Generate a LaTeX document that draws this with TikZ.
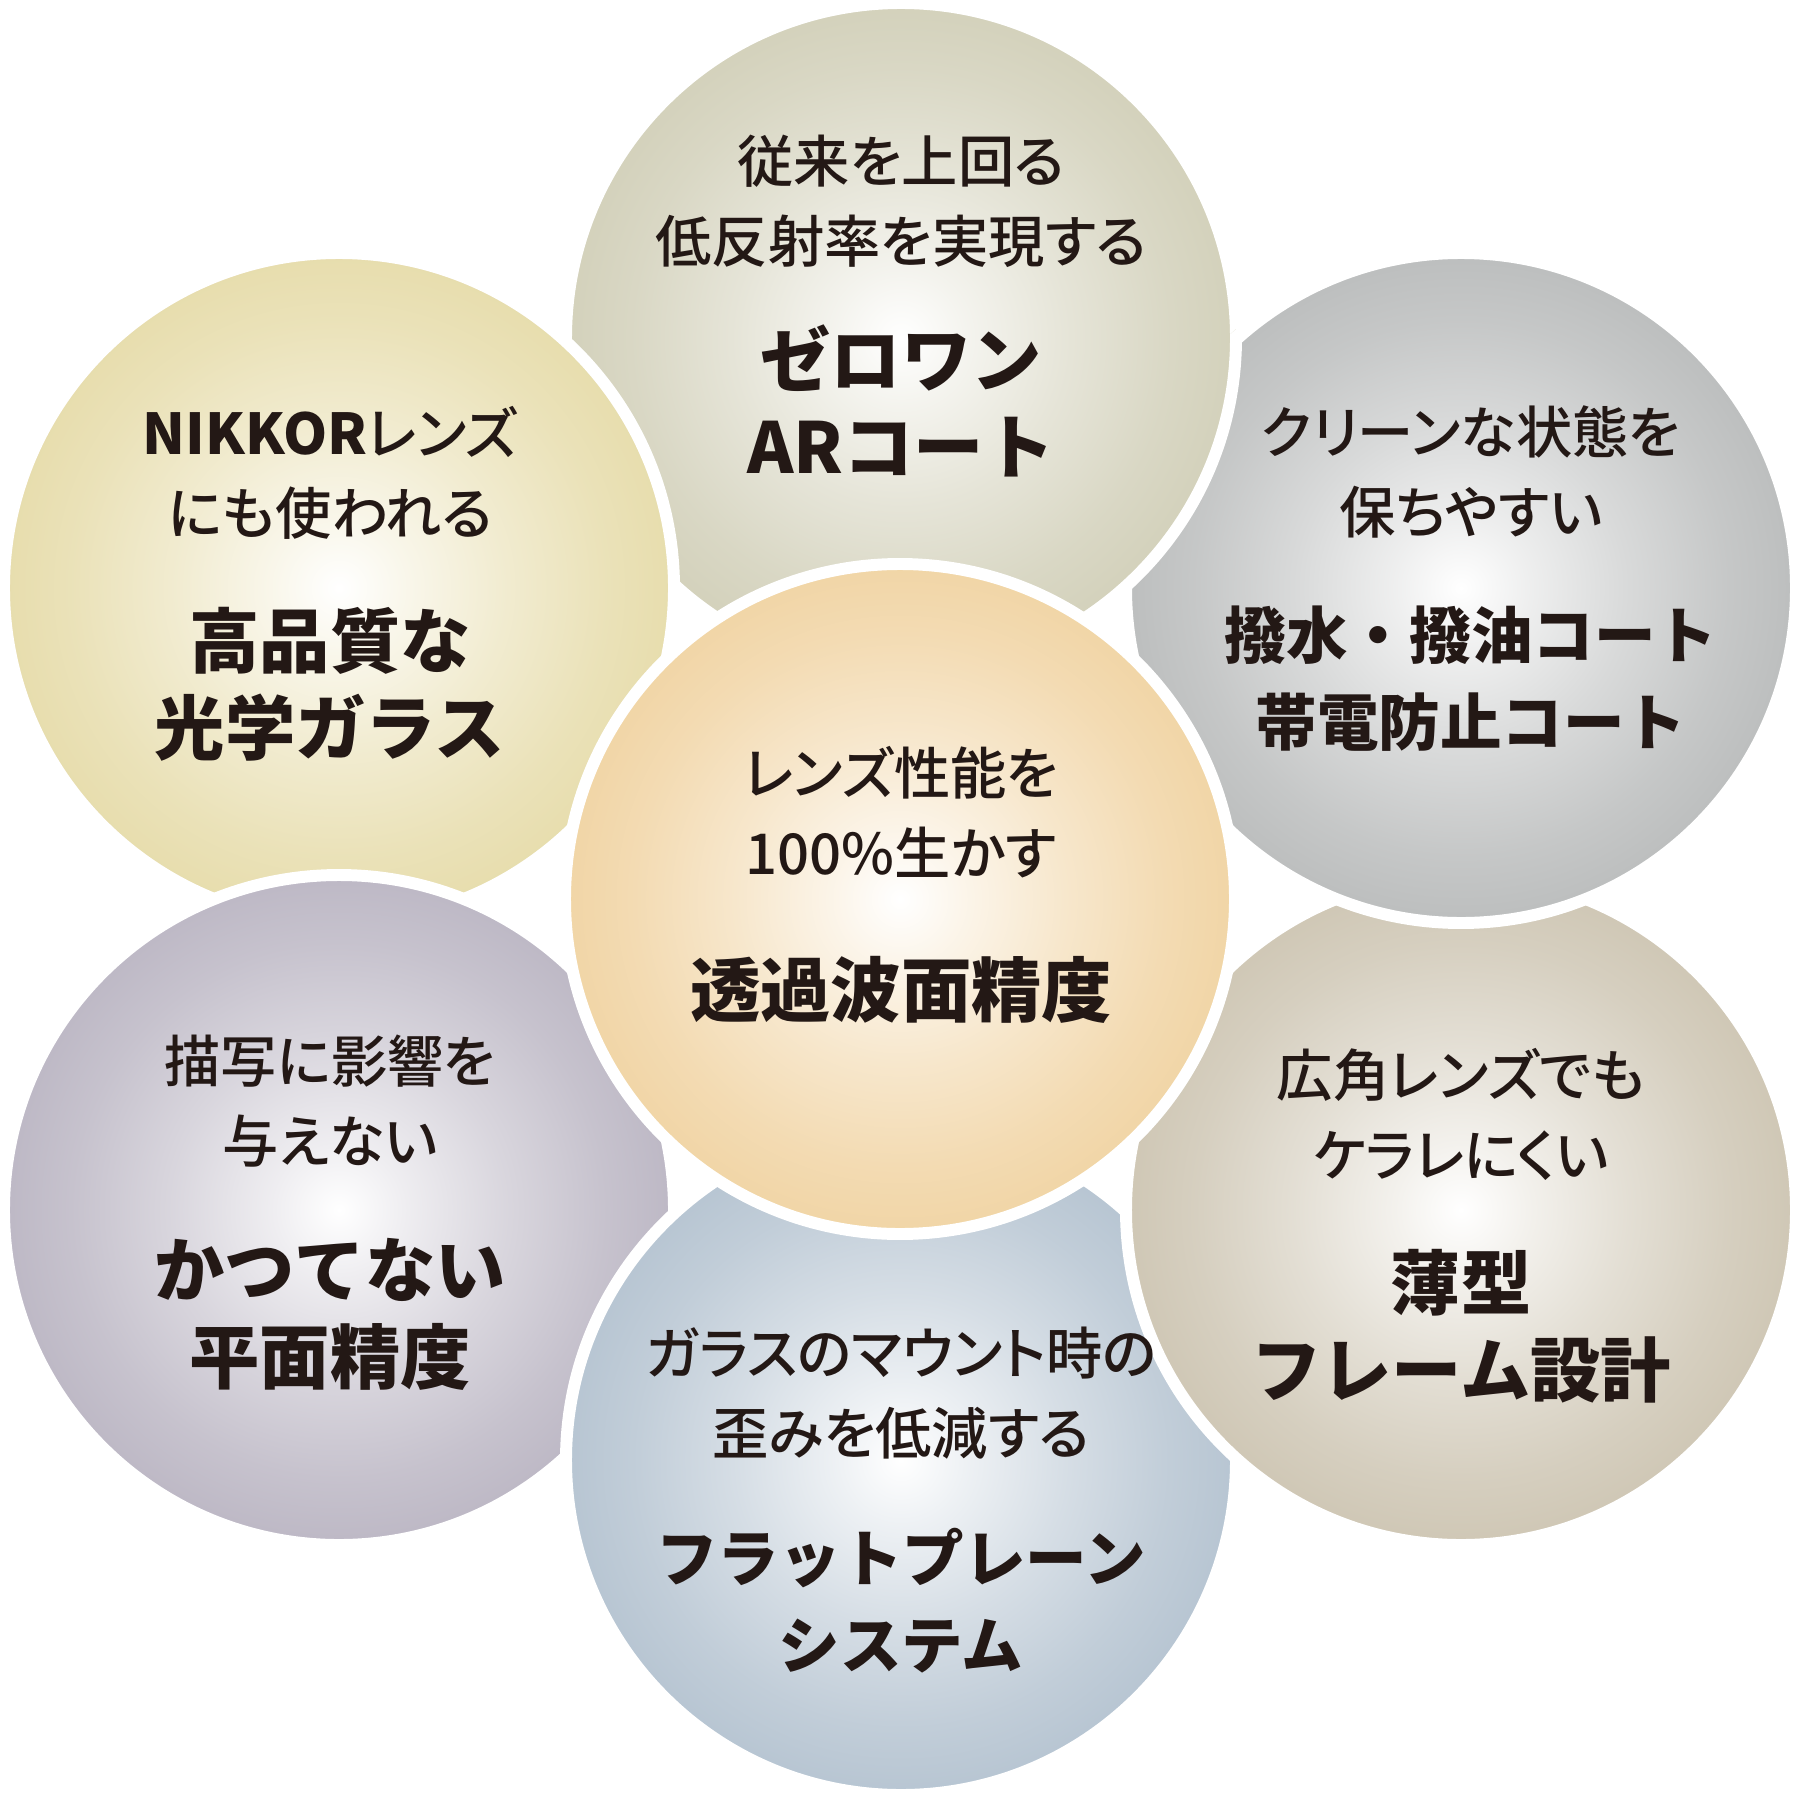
\documentclass[tikz,border=0pt]{standalone}
\usepackage{fontspec}
\newfontfamily\jp{Noto Sans CJK JP}
\newfontfamily\jpprop{Noto Sans CJK JP Medium}[RawFeature=+palt]
\definecolor{glowrim}{HTML}{D3D1BB}
\definecolor{toprim}{HTML}{D3D1BB}
\definecolor{ulrim}{HTML}{E7DDAD}
\definecolor{urrim}{HTML}{BCBEBE}
\definecolor{lrrim}{HTML}{CFC7B5}
\definecolor{botrim}{HTML}{B7C5D2}
\definecolor{llrim}{HTML}{BDB8C5}
\definecolor{midrim}{HTML}{F1D5A6}
\definecolor{ink}{HTML}{231815}
\pgfdeclareradialshading[glowrim]{glow}{\pgfpointorigin}{color(0bp)=(white); color(5bp)=(glowrim!25!white); color(12.5bp)=(glowrim!58!white); color(20bp)=(glowrim!86!white); color(25bp)=(glowrim); color(50bp)=(glowrim)}
\begin{document}
\begin{tikzpicture}[x=0.01cm, y=-0.01cm,
  disc/.style={shading=glow, draw=white, line width=3.4pt},
  rim/.code={\colorlet{glowrim}{#1}},
  sub/.style={font=\jpprop\fontsize{16}{22.8}\selectfont, text=ink, align=center, inner sep=0pt},
  head/.style={font=\jp\bfseries\fontsize{#1}{24.8}\selectfont, text=ink, align=center, inner sep=0pt},
  head/.default=20]
\useasboundingbox (0,0) rectangle (1800,1800);
\fill[white] (0,0) rectangle (1800,1800);
\coordinate (top) at (901,338);
\coordinate (ul) at (339,588);
\coordinate (ur) at (1461,588);
\coordinate (ll) at (339,1210);
\coordinate (lr) at (1461,1210);
\coordinate (bot) at (901,1460);
\coordinate (mid) at (900,899);
\draw[rim=toprim, disc] (top) circle[radius=335];
\draw[rim=ulrim, disc] (ul) circle[radius=335];
\draw[rim=llrim, disc] (ll) circle[radius=335];
\draw[rim=botrim, disc] (bot) circle[radius=335];
\draw[rim=lrrim, disc] (lr) circle[radius=335];
\draw[rim=urrim, disc] (ur) circle[radius=335];
\begin{scope}
  \clip (ur) circle[radius=343];
  \draw[rim=toprim, disc] (top) circle[radius=335];
\end{scope}
\draw[rim=midrim, disc] (mid) circle[radius=335];
\node[sub] (topsub) at (901,201) {従来を上回る\\低反射率を実現する};
\node[head] (tophead) at (901,401) {ゼロワン\\ARコート};
\node[sub] (midsub) at (901,812) {レンズ性能を\\100\%生かす};
\node[head] (midhead) at (901,990) {透過波面精度};
\node[sub] (ulsub) at (330,473) {{\bfseries NIKKOR}レンズ\\にも使われる};
\node[head] (ulhead) at (330,684) {高品質な\\光学ガラス};
\node[sub] (ursub) at (1471,472) {クリーンな状態を\\保ちやすい};
\node[head=17.5] (urhead) at (1471,679) {撥水・撥油コート\\帯電防止コート};
\node[sub] (llsub) at (330,1101) {描写に影響を\\与えない};
\node[head] (llhead) at (330,1314) {かつてない\\平面精度};
\node[sub] (lrsub) at (1461,1114) {広角レンズでも\\ケラレにくい};
\node[head] (lrhead) at (1461,1326) {薄型\\フレーム設計};
\node[sub] (botsub) at (901,1393) {ガラスのマウント時の\\歪みを低減する};
\node[head=17.5] (bothead) at (901,1601) {フラットプレーン\\システム};
\end{tikzpicture}
\end{document}
